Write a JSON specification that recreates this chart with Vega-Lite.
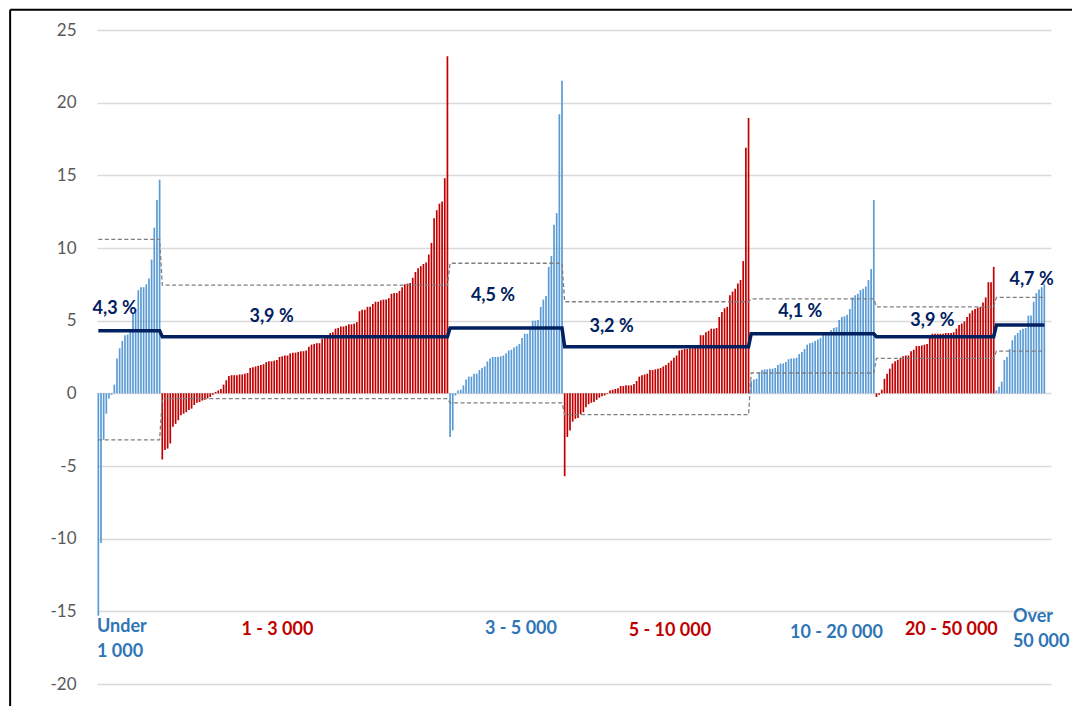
{
  "$schema": "https://vega.github.io/schema/vega-lite/v6.json",
  "autosize": {"type": "none"},
  "width": 954,
  "height": 654,
  "padding": {"left": 97, "top": 30, "right": 21, "bottom": 22},
  "background": "white",
  "config": {"view": {"stroke": null}},
  "datasets": {
    "bars": [
      {"i":1,"v":-15.3,"g":"Under 1 000"},{"i":2,"v":-10.3,"g":"Under 1 000"},{"i":3,"v":-3.2,"g":"Under 1 000"},{"i":4,"v":-1.4,"g":"Under 1 000"},{"i":5,"v":-0.35,"g":"Under 1 000"},{"i":6,"v":-0.1,"g":"Under 1 000"},{"i":7,"v":0.6,"g":"Under 1 000"},{"i":8,"v":2.4,"g":"Under 1 000"},{"i":9,"v":3.1,"g":"Under 1 000"},{"i":10,"v":3.6,"g":"Under 1 000"},{"i":11,"v":4.0,"g":"Under 1 000"},{"i":12,"v":4.05,"g":"Under 1 000"},{"i":13,"v":4.3,"g":"Under 1 000"},{"i":14,"v":5.5,"g":"Under 1 000"},{"i":15,"v":5.8,"g":"Under 1 000"},{"i":16,"v":7.1,"g":"Under 1 000"},{"i":17,"v":7.3,"g":"Under 1 000"},{"i":18,"v":7.3,"g":"Under 1 000"},{"i":19,"v":7.5,"g":"Under 1 000"},{"i":20,"v":7.9,"g":"Under 1 000"},{"i":21,"v":9.2,"g":"Under 1 000"},{"i":22,"v":11.4,"g":"Under 1 000"},{"i":23,"v":13.3,"g":"Under 1 000"},{"i":24,"v":14.7,"g":"Under 1 000"},
      {"i":25,"v":-4.55,"g":"1 - 3 000"},{"i":26,"v":-3.9,"g":"1 - 3 000"},{"i":27,"v":-3.8,"g":"1 - 3 000"},{"i":28,"v":-3.45,"g":"1 - 3 000"},{"i":29,"v":-2.3,"g":"1 - 3 000"},{"i":30,"v":-2.1,"g":"1 - 3 000"},{"i":31,"v":-1.85,"g":"1 - 3 000"},{"i":32,"v":-1.5,"g":"1 - 3 000"},{"i":33,"v":-1.4,"g":"1 - 3 000"},{"i":34,"v":-1.3,"g":"1 - 3 000"},{"i":35,"v":-1.15,"g":"1 - 3 000"},{"i":36,"v":-1.05,"g":"1 - 3 000"},{"i":37,"v":-0.8,"g":"1 - 3 000"},{"i":38,"v":-0.65,"g":"1 - 3 000"},{"i":39,"v":-0.6,"g":"1 - 3 000"},{"i":40,"v":-0.5,"g":"1 - 3 000"},{"i":41,"v":-0.45,"g":"1 - 3 000"},{"i":42,"v":-0.35,"g":"1 - 3 000"},{"i":43,"v":-0.25,"g":"1 - 3 000"},{"i":44,"v":-0.1,"g":"1 - 3 000"},{"i":45,"v":0.1,"g":"1 - 3 000"},{"i":46,"v":0.2,"g":"1 - 3 000"},{"i":47,"v":0.3,"g":"1 - 3 000"},{"i":48,"v":0.6,"g":"1 - 3 000"},{"i":49,"v":0.9,"g":"1 - 3 000"},{"i":50,"v":1.2,"g":"1 - 3 000"},{"i":51,"v":1.25,"g":"1 - 3 000"},{"i":52,"v":1.25,"g":"1 - 3 000"},{"i":53,"v":1.25,"g":"1 - 3 000"},{"i":54,"v":1.3,"g":"1 - 3 000"},{"i":55,"v":1.3,"g":"1 - 3 000"},{"i":56,"v":1.35,"g":"1 - 3 000"},{"i":57,"v":1.4,"g":"1 - 3 000"},{"i":58,"v":1.75,"g":"1 - 3 000"},{"i":59,"v":1.8,"g":"1 - 3 000"},{"i":60,"v":1.85,"g":"1 - 3 000"},{"i":61,"v":1.9,"g":"1 - 3 000"},{"i":62,"v":1.95,"g":"1 - 3 000"},{"i":63,"v":2.0,"g":"1 - 3 000"},{"i":64,"v":2.15,"g":"1 - 3 000"},{"i":65,"v":2.2,"g":"1 - 3 000"},{"i":66,"v":2.2,"g":"1 - 3 000"},{"i":67,"v":2.25,"g":"1 - 3 000"},{"i":68,"v":2.3,"g":"1 - 3 000"},{"i":69,"v":2.5,"g":"1 - 3 000"},{"i":70,"v":2.55,"g":"1 - 3 000"},{"i":71,"v":2.6,"g":"1 - 3 000"},{"i":72,"v":2.6,"g":"1 - 3 000"},{"i":73,"v":2.75,"g":"1 - 3 000"},{"i":74,"v":2.8,"g":"1 - 3 000"},{"i":75,"v":2.8,"g":"1 - 3 000"},{"i":76,"v":2.85,"g":"1 - 3 000"},{"i":77,"v":2.9,"g":"1 - 3 000"},{"i":78,"v":2.9,"g":"1 - 3 000"},{"i":79,"v":2.95,"g":"1 - 3 000"},{"i":80,"v":3.2,"g":"1 - 3 000"},{"i":81,"v":3.35,"g":"1 - 3 000"},{"i":82,"v":3.4,"g":"1 - 3 000"},{"i":83,"v":3.45,"g":"1 - 3 000"},{"i":84,"v":3.45,"g":"1 - 3 000"},{"i":85,"v":3.75,"g":"1 - 3 000"},{"i":86,"v":3.8,"g":"1 - 3 000"},{"i":87,"v":4.0,"g":"1 - 3 000"},{"i":88,"v":4.15,"g":"1 - 3 000"},{"i":89,"v":4.2,"g":"1 - 3 000"},{"i":90,"v":4.45,"g":"1 - 3 000"},{"i":91,"v":4.5,"g":"1 - 3 000"},{"i":92,"v":4.6,"g":"1 - 3 000"},{"i":93,"v":4.6,"g":"1 - 3 000"},{"i":94,"v":4.65,"g":"1 - 3 000"},{"i":95,"v":4.75,"g":"1 - 3 000"},{"i":96,"v":4.75,"g":"1 - 3 000"},{"i":97,"v":4.8,"g":"1 - 3 000"},{"i":98,"v":4.9,"g":"1 - 3 000"},{"i":99,"v":5.65,"g":"1 - 3 000"},{"i":100,"v":5.75,"g":"1 - 3 000"},{"i":101,"v":5.75,"g":"1 - 3 000"},{"i":102,"v":5.95,"g":"1 - 3 000"},{"i":103,"v":5.95,"g":"1 - 3 000"},{"i":104,"v":6.15,"g":"1 - 3 000"},{"i":105,"v":6.3,"g":"1 - 3 000"},{"i":106,"v":6.3,"g":"1 - 3 000"},{"i":107,"v":6.4,"g":"1 - 3 000"},{"i":108,"v":6.45,"g":"1 - 3 000"},{"i":109,"v":6.45,"g":"1 - 3 000"},{"i":110,"v":6.55,"g":"1 - 3 000"},{"i":111,"v":6.85,"g":"1 - 3 000"},{"i":112,"v":6.9,"g":"1 - 3 000"},{"i":113,"v":6.9,"g":"1 - 3 000"},{"i":114,"v":7.05,"g":"1 - 3 000"},{"i":115,"v":7.3,"g":"1 - 3 000"},{"i":116,"v":7.5,"g":"1 - 3 000"},{"i":117,"v":7.55,"g":"1 - 3 000"},{"i":118,"v":7.6,"g":"1 - 3 000"},{"i":119,"v":7.95,"g":"1 - 3 000"},{"i":120,"v":8.35,"g":"1 - 3 000"},{"i":121,"v":8.6,"g":"1 - 3 000"},{"i":122,"v":8.75,"g":"1 - 3 000"},{"i":123,"v":8.9,"g":"1 - 3 000"},{"i":124,"v":9.0,"g":"1 - 3 000"},{"i":125,"v":9.55,"g":"1 - 3 000"},{"i":126,"v":10.35,"g":"1 - 3 000"},{"i":127,"v":12.05,"g":"1 - 3 000"},{"i":128,"v":12.6,"g":"1 - 3 000"},{"i":129,"v":13.05,"g":"1 - 3 000"},{"i":130,"v":13.2,"g":"1 - 3 000"},{"i":131,"v":14.8,"g":"1 - 3 000"},{"i":132,"v":23.2,"g":"1 - 3 000"},
      {"i":133,"v":-3.0,"g":"3 - 5 000"},{"i":134,"v":-2.55,"g":"3 - 5 000"},{"i":135,"v":-0.15,"g":"3 - 5 000"},{"i":136,"v":0.2,"g":"3 - 5 000"},{"i":137,"v":0.25,"g":"3 - 5 000"},{"i":138,"v":0.55,"g":"3 - 5 000"},{"i":139,"v":0.95,"g":"3 - 5 000"},{"i":140,"v":1.15,"g":"3 - 5 000"},{"i":141,"v":1.15,"g":"3 - 5 000"},{"i":142,"v":1.35,"g":"3 - 5 000"},{"i":143,"v":1.35,"g":"3 - 5 000"},{"i":144,"v":1.6,"g":"3 - 5 000"},{"i":145,"v":1.75,"g":"3 - 5 000"},{"i":146,"v":1.85,"g":"3 - 5 000"},{"i":147,"v":2.2,"g":"3 - 5 000"},{"i":148,"v":2.4,"g":"3 - 5 000"},{"i":149,"v":2.5,"g":"3 - 5 000"},{"i":150,"v":2.5,"g":"3 - 5 000"},{"i":151,"v":2.5,"g":"3 - 5 000"},{"i":152,"v":2.55,"g":"3 - 5 000"},{"i":153,"v":2.6,"g":"3 - 5 000"},{"i":154,"v":2.75,"g":"3 - 5 000"},{"i":155,"v":2.95,"g":"3 - 5 000"},{"i":156,"v":3.0,"g":"3 - 5 000"},{"i":157,"v":3.15,"g":"3 - 5 000"},{"i":158,"v":3.25,"g":"3 - 5 000"},{"i":159,"v":3.4,"g":"3 - 5 000"},{"i":160,"v":3.8,"g":"3 - 5 000"},{"i":161,"v":4.1,"g":"3 - 5 000"},{"i":162,"v":4.1,"g":"3 - 5 000"},{"i":163,"v":4.45,"g":"3 - 5 000"},{"i":164,"v":5.0,"g":"3 - 5 000"},{"i":165,"v":5.0,"g":"3 - 5 000"},{"i":166,"v":5.05,"g":"3 - 5 000"},{"i":167,"v":5.95,"g":"3 - 5 000"},{"i":168,"v":6.45,"g":"3 - 5 000"},{"i":169,"v":6.7,"g":"3 - 5 000"},{"i":170,"v":8.7,"g":"3 - 5 000"},{"i":171,"v":9.45,"g":"3 - 5 000"},{"i":172,"v":11.6,"g":"3 - 5 000"},{"i":173,"v":12.4,"g":"3 - 5 000"},{"i":174,"v":19.2,"g":"3 - 5 000"},{"i":175,"v":21.5,"g":"3 - 5 000"},
      {"i":176,"v":-5.7,"g":"5 - 10 000"},{"i":177,"v":-3.0,"g":"5 - 10 000"},{"i":178,"v":-2.55,"g":"5 - 10 000"},{"i":179,"v":-1.95,"g":"5 - 10 000"},{"i":180,"v":-1.75,"g":"5 - 10 000"},{"i":181,"v":-1.7,"g":"5 - 10 000"},{"i":182,"v":-1.45,"g":"5 - 10 000"},{"i":183,"v":-1.3,"g":"5 - 10 000"},{"i":184,"v":-0.95,"g":"5 - 10 000"},{"i":185,"v":-0.75,"g":"5 - 10 000"},{"i":186,"v":-0.65,"g":"5 - 10 000"},{"i":187,"v":-0.6,"g":"5 - 10 000"},{"i":188,"v":-0.45,"g":"5 - 10 000"},{"i":189,"v":-0.3,"g":"5 - 10 000"},{"i":190,"v":-0.2,"g":"5 - 10 000"},{"i":191,"v":-0.15,"g":"5 - 10 000"},{"i":192,"v":-0.05,"g":"5 - 10 000"},{"i":193,"v":0.2,"g":"5 - 10 000"},{"i":194,"v":0.25,"g":"5 - 10 000"},{"i":195,"v":0.3,"g":"5 - 10 000"},{"i":196,"v":0.35,"g":"5 - 10 000"},{"i":197,"v":0.5,"g":"5 - 10 000"},{"i":198,"v":0.5,"g":"5 - 10 000"},{"i":199,"v":0.55,"g":"5 - 10 000"},{"i":200,"v":0.55,"g":"5 - 10 000"},{"i":201,"v":0.55,"g":"5 - 10 000"},{"i":202,"v":0.65,"g":"5 - 10 000"},{"i":203,"v":0.85,"g":"5 - 10 000"},{"i":204,"v":1.15,"g":"5 - 10 000"},{"i":205,"v":1.25,"g":"5 - 10 000"},{"i":206,"v":1.3,"g":"5 - 10 000"},{"i":207,"v":1.35,"g":"5 - 10 000"},{"i":208,"v":1.6,"g":"5 - 10 000"},{"i":209,"v":1.6,"g":"5 - 10 000"},{"i":210,"v":1.65,"g":"5 - 10 000"},{"i":211,"v":1.7,"g":"5 - 10 000"},{"i":212,"v":1.75,"g":"5 - 10 000"},{"i":213,"v":1.85,"g":"5 - 10 000"},{"i":214,"v":1.95,"g":"5 - 10 000"},{"i":215,"v":2.1,"g":"5 - 10 000"},{"i":216,"v":2.25,"g":"5 - 10 000"},{"i":217,"v":2.45,"g":"5 - 10 000"},{"i":218,"v":2.6,"g":"5 - 10 000"},{"i":219,"v":2.95,"g":"5 - 10 000"},{"i":220,"v":3.0,"g":"5 - 10 000"},{"i":221,"v":3.05,"g":"5 - 10 000"},{"i":222,"v":3.05,"g":"5 - 10 000"},{"i":223,"v":3.1,"g":"5 - 10 000"},{"i":224,"v":3.1,"g":"5 - 10 000"},{"i":225,"v":3.2,"g":"5 - 10 000"},{"i":226,"v":3.2,"g":"5 - 10 000"},{"i":227,"v":4.0,"g":"5 - 10 000"},{"i":228,"v":4.0,"g":"5 - 10 000"},{"i":229,"v":4.2,"g":"5 - 10 000"},{"i":230,"v":4.3,"g":"5 - 10 000"},{"i":231,"v":4.45,"g":"5 - 10 000"},{"i":232,"v":4.45,"g":"5 - 10 000"},{"i":233,"v":4.5,"g":"5 - 10 000"},{"i":234,"v":5.25,"g":"5 - 10 000"},{"i":235,"v":5.6,"g":"5 - 10 000"},{"i":236,"v":5.85,"g":"5 - 10 000"},{"i":237,"v":5.95,"g":"5 - 10 000"},{"i":238,"v":6.75,"g":"5 - 10 000"},{"i":239,"v":7.0,"g":"5 - 10 000"},{"i":240,"v":7.2,"g":"5 - 10 000"},{"i":241,"v":7.55,"g":"5 - 10 000"},{"i":242,"v":7.8,"g":"5 - 10 000"},{"i":243,"v":9.1,"g":"5 - 10 000"},{"i":244,"v":16.9,"g":"5 - 10 000"},{"i":245,"v":18.95,"g":"5 - 10 000"},
      {"i":246,"v":0.85,"g":"10 - 20 000"},{"i":247,"v":0.95,"g":"10 - 20 000"},{"i":248,"v":1.0,"g":"10 - 20 000"},{"i":249,"v":1.45,"g":"10 - 20 000"},{"i":250,"v":1.6,"g":"10 - 20 000"},{"i":251,"v":1.65,"g":"10 - 20 000"},{"i":252,"v":1.65,"g":"10 - 20 000"},{"i":253,"v":1.7,"g":"10 - 20 000"},{"i":254,"v":1.7,"g":"10 - 20 000"},{"i":255,"v":1.75,"g":"10 - 20 000"},{"i":256,"v":1.95,"g":"10 - 20 000"},{"i":257,"v":2.05,"g":"10 - 20 000"},{"i":258,"v":2.05,"g":"10 - 20 000"},{"i":259,"v":2.15,"g":"10 - 20 000"},{"i":260,"v":2.35,"g":"10 - 20 000"},{"i":261,"v":2.4,"g":"10 - 20 000"},{"i":262,"v":2.4,"g":"10 - 20 000"},{"i":263,"v":2.45,"g":"10 - 20 000"},{"i":264,"v":2.7,"g":"10 - 20 000"},{"i":265,"v":2.85,"g":"10 - 20 000"},{"i":266,"v":3.05,"g":"10 - 20 000"},{"i":267,"v":3.35,"g":"10 - 20 000"},{"i":268,"v":3.45,"g":"10 - 20 000"},{"i":269,"v":3.5,"g":"10 - 20 000"},{"i":270,"v":3.6,"g":"10 - 20 000"},{"i":271,"v":3.7,"g":"10 - 20 000"},{"i":272,"v":3.8,"g":"10 - 20 000"},{"i":273,"v":4.05,"g":"10 - 20 000"},{"i":274,"v":4.15,"g":"10 - 20 000"},{"i":275,"v":4.2,"g":"10 - 20 000"},{"i":276,"v":4.35,"g":"10 - 20 000"},{"i":277,"v":4.5,"g":"10 - 20 000"},{"i":278,"v":4.55,"g":"10 - 20 000"},{"i":279,"v":5.05,"g":"10 - 20 000"},{"i":280,"v":5.25,"g":"10 - 20 000"},{"i":281,"v":5.3,"g":"10 - 20 000"},{"i":282,"v":5.4,"g":"10 - 20 000"},{"i":283,"v":5.8,"g":"10 - 20 000"},{"i":284,"v":6.6,"g":"10 - 20 000"},{"i":285,"v":6.75,"g":"10 - 20 000"},{"i":286,"v":6.85,"g":"10 - 20 000"},{"i":287,"v":7.1,"g":"10 - 20 000"},{"i":288,"v":7.2,"g":"10 - 20 000"},{"i":289,"v":7.35,"g":"10 - 20 000"},{"i":290,"v":7.8,"g":"10 - 20 000"},{"i":291,"v":8.55,"g":"10 - 20 000"},{"i":292,"v":13.3,"g":"10 - 20 000"},
      {"i":293,"v":-0.25,"g":"20 - 50 000"},{"i":294,"v":-0.1,"g":"20 - 50 000"},{"i":295,"v":0.25,"g":"20 - 50 000"},{"i":296,"v":1.0,"g":"20 - 50 000"},{"i":297,"v":1.35,"g":"20 - 50 000"},{"i":298,"v":1.7,"g":"20 - 50 000"},{"i":299,"v":2.05,"g":"20 - 50 000"},{"i":300,"v":2.2,"g":"20 - 50 000"},{"i":301,"v":2.3,"g":"20 - 50 000"},{"i":302,"v":2.45,"g":"20 - 50 000"},{"i":303,"v":2.55,"g":"20 - 50 000"},{"i":304,"v":2.6,"g":"20 - 50 000"},{"i":305,"v":2.6,"g":"20 - 50 000"},{"i":306,"v":2.9,"g":"20 - 50 000"},{"i":307,"v":3.0,"g":"20 - 50 000"},{"i":308,"v":3.25,"g":"20 - 50 000"},{"i":309,"v":3.25,"g":"20 - 50 000"},{"i":310,"v":3.3,"g":"20 - 50 000"},{"i":311,"v":3.35,"g":"20 - 50 000"},{"i":312,"v":3.4,"g":"20 - 50 000"},{"i":313,"v":3.85,"g":"20 - 50 000"},{"i":314,"v":4.1,"g":"20 - 50 000"},{"i":315,"v":4.1,"g":"20 - 50 000"},{"i":316,"v":4.1,"g":"20 - 50 000"},{"i":317,"v":4.1,"g":"20 - 50 000"},{"i":318,"v":4.1,"g":"20 - 50 000"},{"i":319,"v":4.15,"g":"20 - 50 000"},{"i":320,"v":4.15,"g":"20 - 50 000"},{"i":321,"v":4.15,"g":"20 - 50 000"},{"i":322,"v":4.2,"g":"20 - 50 000"},{"i":323,"v":4.45,"g":"20 - 50 000"},{"i":324,"v":4.7,"g":"20 - 50 000"},{"i":325,"v":4.8,"g":"20 - 50 000"},{"i":326,"v":4.95,"g":"20 - 50 000"},{"i":327,"v":5.25,"g":"20 - 50 000"},{"i":328,"v":5.5,"g":"20 - 50 000"},{"i":329,"v":5.7,"g":"20 - 50 000"},{"i":330,"v":5.8,"g":"20 - 50 000"},{"i":331,"v":5.9,"g":"20 - 50 000"},{"i":332,"v":5.95,"g":"20 - 50 000"},{"i":333,"v":6.25,"g":"20 - 50 000"},{"i":334,"v":6.6,"g":"20 - 50 000"},{"i":335,"v":7.65,"g":"20 - 50 000"},{"i":336,"v":7.65,"g":"20 - 50 000"},{"i":337,"v":8.7,"g":"20 - 50 000"},
      {"i":338,"v":0.2,"g":"Over 50 000"},{"i":339,"v":0.45,"g":"Over 50 000"},{"i":340,"v":0.8,"g":"Over 50 000"},{"i":341,"v":2.3,"g":"Over 50 000"},{"i":342,"v":2.5,"g":"Over 50 000"},{"i":343,"v":3.05,"g":"Over 50 000"},{"i":344,"v":3.65,"g":"Over 50 000"},{"i":345,"v":4.0,"g":"Over 50 000"},{"i":346,"v":4.15,"g":"Over 50 000"},{"i":347,"v":4.35,"g":"Over 50 000"},{"i":348,"v":4.45,"g":"Over 50 000"},{"i":349,"v":4.5,"g":"Over 50 000"},{"i":350,"v":5.35,"g":"Over 50 000"},{"i":351,"v":5.35,"g":"Over 50 000"},{"i":352,"v":6.3,"g":"Over 50 000"},{"i":353,"v":6.9,"g":"Over 50 000"},{"i":354,"v":7.15,"g":"Over 50 000"},{"i":355,"v":7.3,"g":"Over 50 000"},{"i":356,"v":7.5,"g":"Over 50 000"}
    ],
    "median": [
      {"i":1,"m":4.3},{"i":24,"m":4.3},{"i":25,"m":3.9},{"i":132,"m":3.9},{"i":133,"m":4.5},{"i":175,"m":4.5},{"i":176,"m":3.2},{"i":245,"m":3.2},{"i":246,"m":4.1},{"i":292,"m":4.1},{"i":293,"m":3.9},{"i":337,"m":3.9},{"i":338,"m":4.7},{"i":356,"m":4.7}
    ],
    "bands": [
      {"i":1,"q":10.6,"s":"upper"},{"i":24,"q":10.6,"s":"upper"},{"i":25,"q":7.45,"s":"upper"},{"i":132,"q":7.45,"s":"upper"},{"i":133,"q":8.95,"s":"upper"},{"i":175,"q":8.95,"s":"upper"},{"i":176,"q":6.3,"s":"upper"},{"i":245,"q":6.3,"s":"upper"},{"i":246,"q":6.5,"s":"upper"},{"i":292,"q":6.5,"s":"upper"},{"i":293,"q":5.95,"s":"upper"},{"i":337,"q":5.95,"s":"upper"},{"i":338,"q":6.6,"s":"upper"},{"i":356,"q":6.6,"s":"upper"},
      {"i":1,"q":-3.2,"s":"lower"},{"i":24,"q":-3.2,"s":"lower"},{"i":25,"q":-0.37,"s":"lower"},{"i":132,"q":-0.37,"s":"lower"},{"i":133,"q":-0.65,"s":"lower"},{"i":175,"q":-0.65,"s":"lower"},{"i":176,"q":-1.47,"s":"lower"},{"i":245,"q":-1.47,"s":"lower"},{"i":246,"q":1.4,"s":"lower"},{"i":292,"q":1.4,"s":"lower"},{"i":293,"q":2.4,"s":"lower"},{"i":337,"q":2.4,"s":"lower"},{"i":338,"q":2.9,"s":"lower"},{"i":356,"q":2.9,"s":"lower"}
    ],
    "medlabels": [
      {"i":7.1,"y":5.81,"t":"4,3 %"},{"i":66.0,"y":5.25,"t":"3,9 %"},{"i":149.1,"y":6.67,"t":"4,5 %"},{"i":193.6,"y":4.56,"t":"3,2 %"},{"i":264.4,"y":5.59,"t":"4,1 %"},{"i":314.0,"y":4.95,"t":"3,9 %"},{"i":351.2,"y":7.78,"t":"4,7 %"}
    ],
    "grouplabels": [
      {"i":68.2,"y":-16.31,"g":"1 - 3 000","t":"1 - 3 000"},{"i":159.6,"y":-16.24,"g":"3 - 5 000","t":"3 - 5 000"},{"i":215.5,"y":-16.38,"g":"5 - 10 000","t":"5 - 10 000"},{"i":278.0,"y":-16.51,"g":"10 - 20 000","t":"10 - 20 000"},{"i":321.1,"y":-16.31,"g":"20 - 50 000","t":"20 - 50 000"}
    ],
    "grouplabels2": [
      {"i":0.5,"y":-16.45,"g":"Under 1 000","t":"Under\n1 000"},{"i":344.2,"y":-15.76,"g":"Over 50 000","t":"Over\n50 000"}
    ],
    "frame": [{"x":-32.1,"xe":420,"y":26.4,"ye":-30}]
  },
  "layer": [
    {
      "data": {"name": "bars"},
      "mark": {"type": "bar", "size": 1.7},
      "encoding": {
        "x": {"field": "i", "type": "quantitative", "scale": {"domain": [0.5, 358.5], "nice": false, "zero": false, "padding": 0}, "axis": null},
        "y": {"field": "v", "type": "quantitative", "scale": {"domain": [-20, 25], "nice": false, "padding": 0}, "axis": {"values": [-20,-15,-10,-5,0,5,10,15,20,25], "labelExpr": "toString(datum.value)", "grid": true, "gridColor": "#d9d9d9", "gridWidth": 1.3, "domain": false, "ticks": false, "labelFont": "Lato", "labelFontSize": 17, "labelColor": "#595959", "labelPadding": 21, "title": null}},
        "color": {"field": "g", "type": "nominal", "scale": {"domain": ["Under 1 000","1 - 3 000","3 - 5 000","5 - 10 000","10 - 20 000","20 - 50 000","Over 50 000"], "range": ["#5b9bd5","#c00000","#5b9bd5","#c00000","#5b9bd5","#c00000","#5b9bd5"]}, "legend": null}
      }
    },
    {
      "data": {"name": "bands"},
      "mark": {"type": "line", "color": "#7f7f7f", "strokeWidth": 1.3, "strokeDash": [4, 2.5]},
      "encoding": {
        "x": {"field": "i", "type": "quantitative"},
        "y": {"field": "q", "type": "quantitative"},
        "detail": {"field": "s"}
      }
    },
    {
      "data": {"name": "median"},
      "mark": {"type": "line", "color": "#002060", "strokeWidth": 3.5},
      "encoding": {
        "x": {"field": "i", "type": "quantitative"},
        "y": {"field": "m", "type": "quantitative"}
      }
    },
    {
      "data": {"name": "medlabels"},
      "mark": {"type": "text", "font": "Lato", "fontWeight": "bold", "fontSize": 18, "color": "#002060", "align": "center", "baseline": "middle"},
      "encoding": {
        "x": {"field": "i", "type": "quantitative"},
        "y": {"field": "y", "type": "quantitative"},
        "text": {"field": "t"}
      }
    },
    {
      "data": {"name": "grouplabels"},
      "mark": {"type": "text", "font": "Lato", "fontWeight": "bold", "fontSize": 18, "align": "center", "baseline": "middle"},
      "encoding": {
        "x": {"field": "i", "type": "quantitative"},
        "y": {"field": "y", "type": "quantitative"},
        "text": {"field": "t"},
        "color": {"field": "g", "type": "nominal", "scale": {"domain": ["Under 1 000","1 - 3 000","3 - 5 000","5 - 10 000","10 - 20 000","20 - 50 000","Over 50 000"], "range": ["#2e75b6","#c00000","#2e75b6","#c00000","#2e75b6","#c00000","#2e75b6"]}, "legend": null}
      }
    },
    {
      "data": {"name": "grouplabels2"},
      "mark": {"type": "text", "font": "Lato", "fontWeight": "bold", "fontSize": 18, "align": "left", "baseline": "alphabetic", "lineBreak": "\n", "lineHeight": 25},
      "encoding": {
        "x": {"field": "i", "type": "quantitative"},
        "y": {"field": "y", "type": "quantitative"},
        "text": {"field": "t"},
        "color": {"field": "g", "type": "nominal", "scale": {"domain": ["Under 1 000","1 - 3 000","3 - 5 000","5 - 10 000","10 - 20 000","20 - 50 000","Over 50 000"], "range": ["#2e75b6","#c00000","#2e75b6","#c00000","#2e75b6","#c00000","#2e75b6"]}, "legend": null}
      }
    },
    {
      "data": {"name": "frame"},
      "mark": {"type": "rule", "color": "#000000", "strokeWidth": 2, "clip": false},
      "encoding": {
        "x": {"field": "x", "type": "quantitative"},
        "y": {"field": "y", "type": "quantitative"},
        "y2": {"field": "ye"}
      }
    },
    {
      "data": {"name": "frame"},
      "mark": {"type": "rule", "color": "#000000", "strokeWidth": 2, "clip": false},
      "encoding": {
        "x": {"field": "x", "type": "quantitative"},
        "x2": {"field": "xe"},
        "y": {"field": "y", "type": "quantitative"}
      }
    }
  ],
  "resolve": {"scale": {"color": "independent"}}
}
